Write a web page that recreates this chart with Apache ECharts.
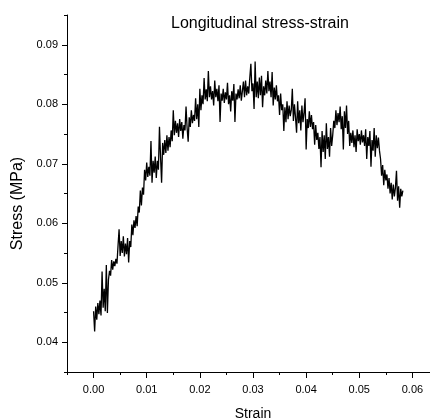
<!DOCTYPE html>
<html>
<head>
<meta charset="utf-8">
<script src="https://cdn.jsdelivr.net/npm/echarts@6/dist/echarts.min.js"></script>
<style>
  html, body { margin: 0; padding: 0; background: #fff; }
  #main { width: 430px; height: 419px; }
</style>
</head>
<body>
<div id="main"></div>
<script>
// strain (x) and stress in MPa (y)
const strain = [
  0.0000, 0.0002, 0.0004, 0.0006, 0.0008, 0.0010, 0.0012, 0.0014, 0.0016, 0.0018,
  0.0020, 0.0022, 0.0024, 0.0026, 0.0028, 0.0030, 0.0032, 0.0034, 0.0036, 0.0038,
  0.0040, 0.0042, 0.0044, 0.0046, 0.0048, 0.0050, 0.0052, 0.0054, 0.0056, 0.0058,
  0.0060, 0.0062, 0.0064, 0.0066, 0.0068, 0.0070, 0.0072, 0.0074, 0.0076, 0.0078,
  0.0080, 0.0082, 0.0084, 0.0086, 0.0088, 0.0090, 0.0092, 0.0094, 0.0096, 0.0098,
  0.0100, 0.0102, 0.0104, 0.0106, 0.0108, 0.0110, 0.0112, 0.0114, 0.0116, 0.0118,
  0.0120, 0.0122, 0.0124, 0.0126, 0.0128, 0.0130, 0.0132, 0.0134, 0.0136, 0.0138,
  0.0140, 0.0142, 0.0144, 0.0146, 0.0148, 0.0150, 0.0152, 0.0154, 0.0156, 0.0158,
  0.0160, 0.0162, 0.0164, 0.0166, 0.0168, 0.0170, 0.0172, 0.0174, 0.0176, 0.0178,
  0.0180, 0.0182, 0.0184, 0.0186, 0.0188, 0.0190, 0.0192, 0.0194, 0.0196, 0.0198,
  0.0200, 0.0202, 0.0204, 0.0206, 0.0208, 0.0210, 0.0212, 0.0214, 0.0216, 0.0218,
  0.0220, 0.0222, 0.0224, 0.0226, 0.0228, 0.0230, 0.0232, 0.0234, 0.0236, 0.0238,
  0.0240, 0.0242, 0.0244, 0.0246, 0.0248, 0.0250, 0.0252, 0.0254, 0.0256, 0.0258,
  0.0260, 0.0262, 0.0264, 0.0266, 0.0268, 0.0270, 0.0272, 0.0274, 0.0276, 0.0278,
  0.0280, 0.0282, 0.0284, 0.0286, 0.0288, 0.0290, 0.0292, 0.0294, 0.0296, 0.0298,
  0.0300, 0.0302, 0.0304, 0.0306, 0.0308, 0.0310, 0.0312, 0.0314, 0.0316, 0.0318,
  0.0320, 0.0322, 0.0324, 0.0326, 0.0328, 0.0330, 0.0332, 0.0334, 0.0336, 0.0338,
  0.0340, 0.0342, 0.0344, 0.0346, 0.0348, 0.0350, 0.0352, 0.0354, 0.0356, 0.0358,
  0.0360, 0.0362, 0.0364, 0.0366, 0.0368, 0.0370, 0.0372, 0.0374, 0.0376, 0.0378,
  0.0380, 0.0382, 0.0384, 0.0386, 0.0388, 0.0390, 0.0392, 0.0394, 0.0396, 0.0398,
  0.0400, 0.0402, 0.0404, 0.0406, 0.0408, 0.0410, 0.0412, 0.0414, 0.0416, 0.0418,
  0.0420, 0.0422, 0.0424, 0.0426, 0.0428, 0.0430, 0.0432, 0.0434, 0.0436, 0.0438,
  0.0440, 0.0442, 0.0444, 0.0446, 0.0448, 0.0450, 0.0452, 0.0454, 0.0456, 0.0458,
  0.0460, 0.0462, 0.0464, 0.0466, 0.0468, 0.0470, 0.0472, 0.0474, 0.0476, 0.0478,
  0.0480, 0.0482, 0.0484, 0.0486, 0.0488, 0.0490, 0.0492, 0.0494, 0.0496, 0.0498,
  0.0500, 0.0502, 0.0504, 0.0506, 0.0508, 0.0510, 0.0512, 0.0514, 0.0516, 0.0518,
  0.0520, 0.0522, 0.0524, 0.0526, 0.0528, 0.0530, 0.0532, 0.0534, 0.0536, 0.0538,
  0.0540, 0.0542, 0.0544, 0.0546, 0.0548, 0.0550, 0.0552, 0.0554, 0.0556, 0.0558,
  0.0560, 0.0562, 0.0564, 0.0566, 0.0568, 0.0570, 0.0572, 0.0574, 0.0576, 0.0578,
  0.0580, 0.0582
]
const stress = [
  0.0452, 0.0418, 0.0460, 0.0438, 0.0466, 0.0447, 0.0470, 0.0445, 0.0519, 0.0458,
  0.0490, 0.0452, 0.0530, 0.0449, 0.0505, 0.0520, 0.0512, 0.0538, 0.0522, 0.0536,
  0.0528, 0.0540, 0.0532, 0.0562, 0.0590, 0.0545, 0.0570, 0.0550, 0.0578, 0.0544,
  0.0566, 0.0548, 0.0575, 0.0534, 0.0570, 0.0560, 0.0598, 0.0580, 0.0605, 0.0592,
  0.0612, 0.0595, 0.0628, 0.0618, 0.0655, 0.0630, 0.0660, 0.0648, 0.0690, 0.0672,
  0.0702, 0.0678, 0.0695, 0.0680, 0.0738, 0.0668, 0.0705, 0.0685, 0.0712, 0.0676,
  0.0705, 0.0690, 0.0762, 0.0712, 0.0668, 0.0735, 0.0715, 0.0740, 0.0718, 0.0748,
  0.0722, 0.0745, 0.0728, 0.0756, 0.0738, 0.0790, 0.0748, 0.0772, 0.0752, 0.0768,
  0.0745, 0.0775, 0.0755, 0.0770, 0.0742, 0.0765, 0.0756, 0.0796, 0.0760, 0.0737,
  0.0778, 0.0762, 0.0790, 0.0768, 0.0782, 0.0772, 0.0810, 0.0775, 0.0800, 0.0762,
  0.0826, 0.0790, 0.0815, 0.0800, 0.0844, 0.0808, 0.0825, 0.0805, 0.0856, 0.0812,
  0.0830, 0.0808, 0.0822, 0.0798, 0.0840, 0.0812, 0.0826, 0.0805, 0.0832, 0.0770,
  0.0818, 0.0806, 0.0826, 0.0802, 0.0820, 0.0808, 0.0836, 0.0800, 0.0815, 0.0788,
  0.0822, 0.0806, 0.0834, 0.0770, 0.0818, 0.0808, 0.0825, 0.0810, 0.0832, 0.0806,
  0.0822, 0.0838, 0.0812, 0.0840, 0.0815, 0.0830, 0.0818, 0.0845, 0.0868, 0.0822,
  0.0835, 0.0792, 0.0872, 0.0812, 0.0838, 0.0810, 0.0845, 0.0815, 0.0848, 0.0795,
  0.0830, 0.0815, 0.0840, 0.0818, 0.0856, 0.0822, 0.0838, 0.0812, 0.0854, 0.0798,
  0.0828, 0.0808, 0.0832, 0.0805, 0.0815, 0.0782, 0.0818, 0.0790, 0.0800, 0.0755,
  0.0795, 0.0770, 0.0805, 0.0775, 0.0798, 0.0780, 0.0790, 0.0826, 0.0772, 0.0800,
  0.0778, 0.0752, 0.0805, 0.0768, 0.0790, 0.0756, 0.0798, 0.0770, 0.0785, 0.0810,
  0.0724, 0.0775, 0.0760, 0.0788, 0.0762, 0.0782, 0.0758, 0.0770, 0.0732, 0.0765,
  0.0740, 0.0752, 0.0725, 0.0745, 0.0694, 0.0755, 0.0720, 0.0748, 0.0708, 0.0768,
  0.0725, 0.0745, 0.0712, 0.0760, 0.0730, 0.0748, 0.0772, 0.0760, 0.0790, 0.0765,
  0.0785, 0.0770, 0.0796, 0.0758, 0.0780, 0.0724, 0.0788, 0.0760, 0.0798, 0.0750,
  0.0772, 0.0730, 0.0752, 0.0735, 0.0756, 0.0728, 0.0748, 0.0720, 0.0758, 0.0738,
  0.0750, 0.0732, 0.0756, 0.0736, 0.0748, 0.0730, 0.0758, 0.0708, 0.0745, 0.0730,
  0.0755, 0.0695, 0.0740, 0.0722, 0.0760, 0.0712, 0.0748, 0.0726, 0.0744, 0.0722,
  0.0708, 0.0680, 0.0698, 0.0664, 0.0690, 0.0672, 0.0682, 0.0658, 0.0676, 0.0650,
  0.0668, 0.0640, 0.0665, 0.0645, 0.0660, 0.0688, 0.0638, 0.0662, 0.0626, 0.0658,
  0.0645, 0.0655
]

// axis ticks
const xMajor = [0.00, 0.01, 0.02, 0.03, 0.04, 0.05, 0.06]
const xMinor = [-0.005, 0.005, 0.015, 0.025, 0.035, 0.045, 0.055, 0.065]
const yMajor = [0.04, 0.05, 0.06, 0.07, 0.08, 0.09]
const yMinor = [0.035, 0.045, 0.055, 0.065, 0.075, 0.085, 0.095]

const font = 'Liberation Sans, Arial, sans-serif'
const chart = echarts.init(document.getElementById('main'), null, { renderer: 'canvas' })

const points = strain.map((s, i) => [s, stress[i]])

const xBase = {
  type: 'value',
  min: -0.005,
  max: 0.065,
  position: 'bottom',
  splitLine: { show: false }
}
const yBase = {
  type: 'value',
  min: 0.035,
  max: 0.095,
  position: 'left',
  splitLine: { show: false }
}

chart.setOption({
  animation: false,
  backgroundColor: '#fff',
  title: {
    text: 'Longitudinal stress-strain',
    left: 166,
    top: 11,
    textStyle: { fontFamily: font, fontSize: 16, fontWeight: 'normal', color: '#000' }
  },
  grid: {
    left: 67,
    top: 15,
    right: -9,
    bottom: 47,
    containLabel: false,
    outerBoundsMode: 'none'
  },
  xAxis: [
    Object.assign({}, xBase, {
      name: 'Strain',
      nameLocation: 'middle',
      nameGap: 35,
      nameTextStyle: { fontFamily: font, fontSize: 14, color: '#000' },
      axisLine: { show: true, onZero: false, lineStyle: { color: '#000', width: 1 } },
      axisTick: { show: true, length: 6, customValues: xMajor, lineStyle: { color: '#000' } },
      axisLabel: {
        customValues: xMajor,
        margin: 12,
        fontFamily: font, fontSize: 11, color: '#000',
        formatter: v => v.toFixed(2)
      }
    }),
    Object.assign({}, xBase, {
      axisLine: { show: false, onZero: false },
      axisTick: { show: true, length: 3, customValues: xMinor, lineStyle: { color: '#000' } },
      axisLabel: { show: false }
    })
  ],
  yAxis: [
    Object.assign({}, yBase, {
      name: 'Stress (MPa)',
      nameLocation: 'middle',
      nameGap: 37,
      nameTextStyle: { fontFamily: font, fontSize: 16, color: '#000', padding: [0, 20, 0, 0] },
      axisLine: { show: true, onZero: false, lineStyle: { color: '#000', width: 1 } },
      axisTick: { show: true, length: 5, customValues: yMajor, lineStyle: { color: '#000' } },
      axisLabel: {
        customValues: yMajor,
        margin: 9,
        fontFamily: font, fontSize: 11, color: '#000',
        formatter: v => v.toFixed(2)
      }
    }),
    Object.assign({}, yBase, {
      axisLine: { show: false, onZero: false },
      axisTick: { show: true, length: 3, customValues: yMinor, lineStyle: { color: '#000' } },
      axisLabel: { show: false }
    })
  ],
  series: [
    {
      type: 'line',
      xAxisIndex: 0,
      yAxisIndex: 0,
      data: points,
      showSymbol: false,
      smooth: false,
      lineStyle: { color: '#000', width: 1.3 }
    }
  ]
})
</script>
</body>
</html>
